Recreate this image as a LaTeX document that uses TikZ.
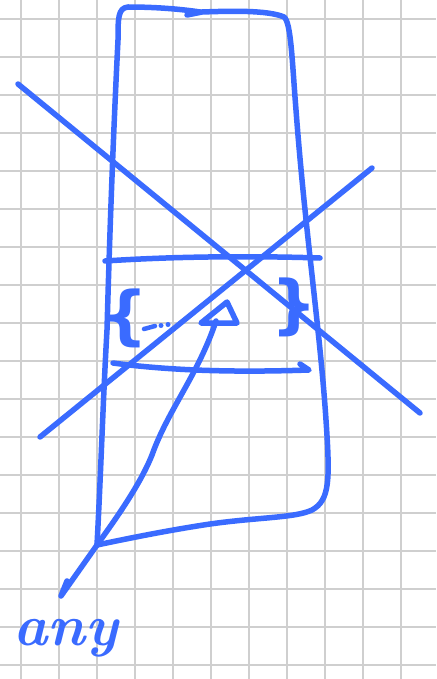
\documentclass[tikz,border=0pt]{standalone}
\usepackage{fontspec}
\setsansfont{DejaVu Sans}
\definecolor{ink}{HTML}{3A6BFF}
\definecolor{gridc}{HTML}{CFCFCF}
\begin{document}
\begin{tikzpicture}[x=1pt,y=-1pt,
  pen/.style={draw=ink,line width=5.5pt,line cap=round,line join=round},
  gridline/.style={draw=gridc,line width=2pt},
  lbl/.style={text=ink,inner sep=0pt},
  brace/.style={lbl,font=\sffamily\bfseries\fontsize{64}{64}\selectfont}]
\useasboundingbox (0,0) rectangle (436,679);
\fill[white] (0,0) rectangle (436,679);
% grid
\foreach \gx in {21,59,...,401} \draw[gridline] (\gx,0) -- (\gx,679);
\foreach \gy in {19,57,...,665} \draw[gridline] (0,\gy) -- (436,\gy);
% named points
\coordinate (tip) at (97,545);
\coordinate (anyend) at (61,596);
% cup outline
\draw[pen] (tip) .. controls (101,470) and (103,400) .. (107,330)
  .. controls (110,220) and (114,120) .. (118,40)
  .. controls (118,18) and (118,8) .. (128,7)
  .. controls (155,7) and (180,9) .. (200,12);
\draw[pen] (187,15) -- (202,12)
  .. controls (230,11) and (268,10) .. (284,17)
  .. controls (291,22) and (292,60) .. (296,110)
  .. controls (305,230) and (320,330) .. (326,420)
  .. controls (330,480) and (330,500) .. (312,510)
  .. controls (295,518) and (260,517) .. (210,524)
  .. controls (170,530) and (130,538) .. (tip);
% crossing lines
\draw[pen] (18,84) -- (420,413);
\draw[pen] (40,437) -- (372,168);
% band
\draw[pen] (105,261) .. controls (180,256) and (260,256) .. (320,258);
\draw[pen] (113,363) .. controls (180,372) and (250,372) .. (309,370) -- (300,364);
% braces and dots
\node[brace] (lb) at (125,318) {\{};
\node[brace] (rb) at (294,307) {\}};
\draw[pen,line width=4.5pt] (144,329) -- (155,326);
\fill[ink] (161,325.5) circle (2.5pt) (168,324.5) circle (2.5pt);
% arrow to triangle
\coordinate (tribase) at (216,321);
\draw[pen] (tip) .. controls (115,520) and (140,485) .. (152,455)
  .. controls (168,410) and (198,375) .. (tribase);
\draw[pen] (201,323) -- (227,302) -- (237,323) -- cycle;
% arrow to "any"
\draw[pen] (tip) -- (anyend) -- (67,581);
\node[lbl,font=\bfseries\itshape\fontsize{58}{58}\selectfont,anchor=base] (any) at (66,645) {any};
\end{tikzpicture}
\end{document}
